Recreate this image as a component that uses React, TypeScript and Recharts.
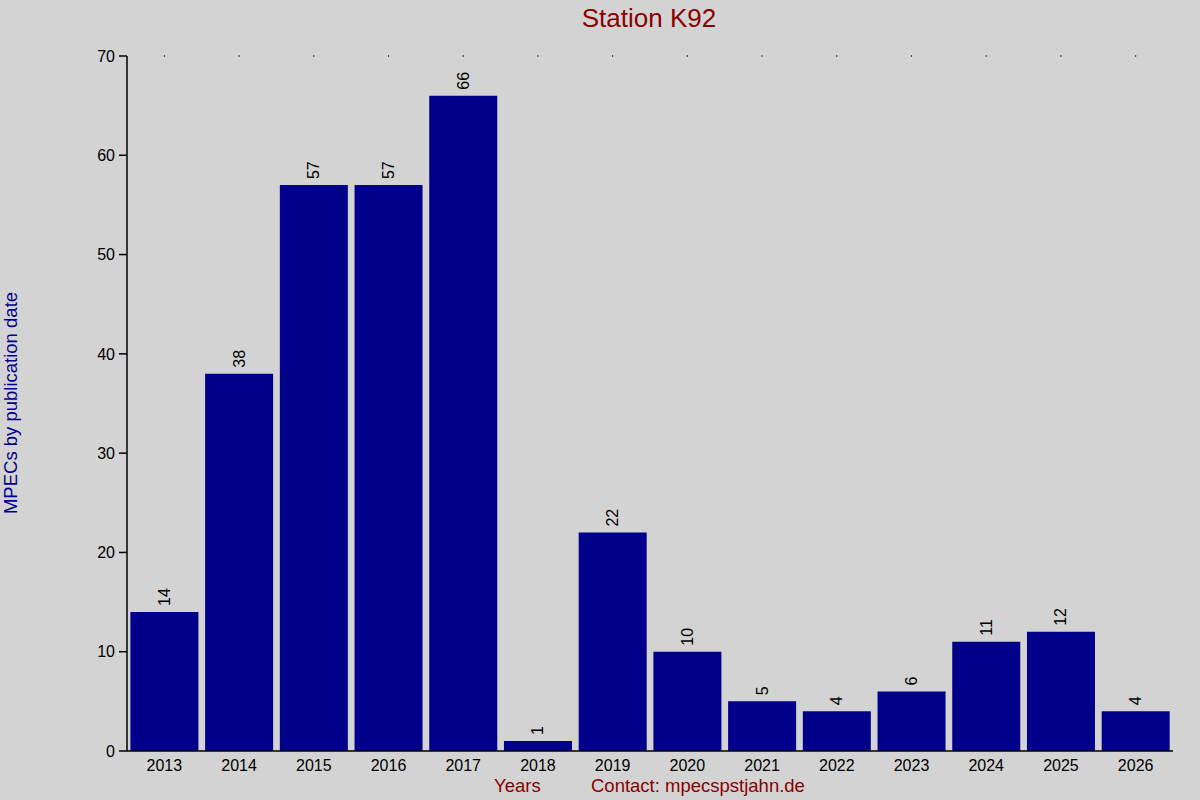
import React from "react";
import { Bar, BarChart, LabelList, ReferenceDot, XAxis, YAxis } from "recharts";

const YEARS = ["2013", "2014", "2015", "2016", "2017", "2018", "2019", "2020", "2021", "2022", "2023", "2024", "2025", "2026"];
const MPECS = [14, 38, 57, 57, 66, 1, 22, 10, 5, 4, 6, 11, 12, 4];
const Y_TICKS = [0, 10, 20, 30, 40, 50, 60, 70];

const FONT = "'Liberation Sans', Arial, sans-serif";
const BG = "#d3d3d3";
const NAVY = "#00008b";
const DARK_RED = "#8b0000";

const data = YEARS.map((year, i) => ({ year, count: MPECS[i] }));

function RotatedLabel(props: any) {
  const { x, y, width, value } = props;
  const cx = x + width / 2;
  const cy = y - 6;
  return (
    <text
      x={cx}
      y={cy}
      transform={`rotate(-90 ${cx} ${cy})`}
      textAnchor="start"
      dominantBaseline="central"
      fontSize={16}
      fontFamily={FONT}
      fill="#000"
    >
      {value}
    </text>
  );
}

export default function App() {
  return (
    <div
      style={{
        position: "absolute",
        left: 0,
        top: 0,
        width: 1200,
        height: 800,
        background: BG,
        fontFamily: FONT
      }}
    >
      <div
        style={{
          position: "absolute",
          top: 2,
          left: 0,
          width: 1298,
          textAlign: "center",
          fontSize: 26,
          lineHeight: "32px",
          color: DARK_RED
        }}
      >
        Station K92
      </div>
      <div
        style={{
          position: "absolute",
          left: 11,
          top: 403,
          transform: "translate(-50%, -50%) rotate(-90deg)",
          whiteSpace: "nowrap",
          fontSize: 18.5,
          color: NAVY
        }}
      >
        MPECs by publication date
      </div>
      <div style={{ position: "absolute", left: 494, top: 775, fontSize: 18.5, color: DARK_RED }}>Years</div>
      <div style={{ position: "absolute", left: 591, top: 775, fontSize: 18.5, color: DARK_RED }}>
        Contact: mpecspstjahn.de
      </div>
      <BarChart
        width={1200}
        height={800}
        data={data}
        margin={{ top: 56, right: 27, bottom: 19, left: 67 }}
        barCategoryGap={3.4}
        style={{ position: "absolute", left: 0, top: 0 }}
      >
        <XAxis
          dataKey="year"
          height={30}
          tickLine={false}
          axisLine={{ stroke: "#000", strokeWidth: 1.5 }}
          tick={{ fill: "#000", fontSize: 16, fontFamily: FONT }}
          tickMargin={3}
          interval={0}
        />
        <YAxis
          width={60}
          domain={[0, 70]}
          ticks={Y_TICKS}
          allowDataOverflow
          axisLine={{ stroke: "#000", strokeWidth: 1.5 }}
          tickLine={{ stroke: "#000", strokeWidth: 1.5 }}
          tickSize={8}
          tickMargin={4}
          tick={{ fill: "#000", fontSize: 16, fontFamily: FONT }}
        />
        {YEARS.map((year) => (
          <ReferenceDot key={year} x={year} y={70} r={0.7} fill="#000" stroke="none" ifOverflow="visible" />
        ))}
        <Bar dataKey="count" fill={NAVY} isAnimationActive={false}>
          <LabelList dataKey="count" content={RotatedLabel} />
        </Bar>
      </BarChart>
    </div>
  );
}
